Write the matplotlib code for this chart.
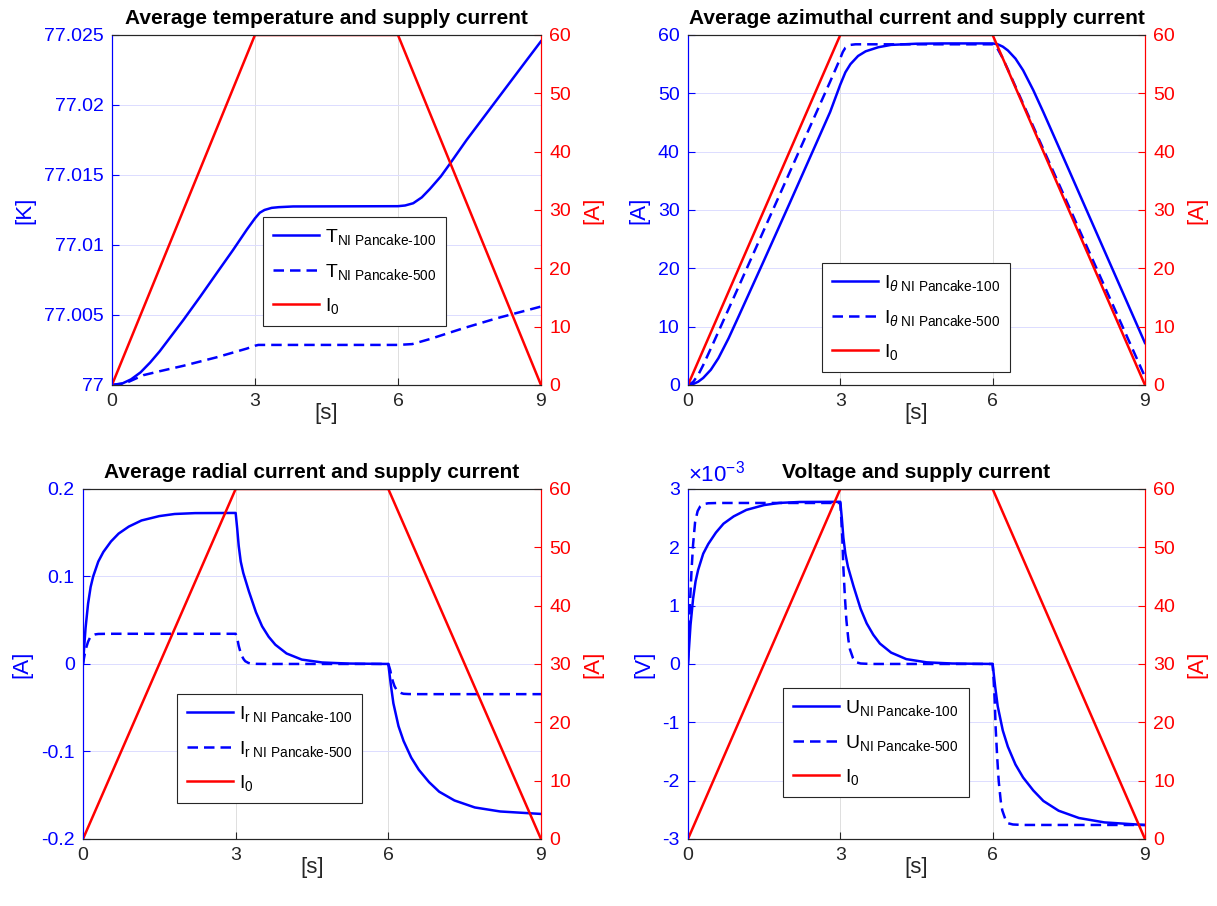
import matplotlib
matplotlib.use('Agg')
import matplotlib.pyplot as plt
from matplotlib.ticker import FuncFormatter

plt.rcParams['font.family'] = ['Liberation Sans', 'DejaVu Sans']
plt.rcParams['mathtext.fontset'] = 'custom'
plt.rcParams['mathtext.rm'] = 'Liberation Sans'
plt.rcParams['mathtext.it'] = 'Liberation Sans:italic'
plt.rcParams['mathtext.bf'] = 'Liberation Sans:bold'
plt.rcParams['axes.unicode_minus'] = False

# supply current I0 (same in every panel)
t_sup = [0, 3, 6, 9]
I_sup = [0, 60, 60, 0]

# average temperature [K]
t_T100 = [0, 0.2, 0.4, 0.6, 0.8, 1.0, 1.2, 1.5, 1.85, 2.2, 2.54, 2.83, 3.0, 3.1, 3.2, 3.35, 3.5, 3.8,
          6.0, 6.15, 6.32, 6.5, 6.67, 6.9, 7.09, 7.44, 7.86, 8.28, 8.7, 9.0]
T100 = [77.0, 77.00008, 77.0004, 77.0009, 77.0016, 77.0024, 77.0033, 77.00465, 77.0063, 77.008,
        77.00964, 77.0111, 77.0119, 77.0123, 77.0125, 77.01265, 77.0127, 77.01275,
        77.01277, 77.01282, 77.01298, 77.0134, 77.014, 77.0149, 77.0158, 77.0175, 77.0194,
        77.0213, 77.0232, 77.02455]
t_T500 = [0, 0.3, 0.66, 1.0, 1.5, 2.2, 2.83, 3.0, 3.07, 6.0, 6.3, 6.67, 7.37, 8.07, 9.0]
T500 = [77.0, 77.00015, 77.0007, 77.00098, 77.00137, 77.00198, 77.0026, 77.0028, 77.00286,
        77.00286, 77.00292, 77.00328, 77.00405, 77.00476, 77.0056]

# average azimuthal current [A]
t_Ith100 = [0, 0.1, 0.2, 0.3, 0.45, 0.6, 0.8, 1.0, 1.5, 2.0, 2.5, 2.8, 3.0, 3.1, 3.2, 3.35, 3.5,
            3.75, 4.0, 4.5, 5.0, 6.0, 6.1, 6.2, 6.3, 6.45, 6.6, 6.8, 7.0, 7.5, 8.0, 8.5, 9.0]
Ith100 = [0, 0.15, 0.55, 1.2, 2.6, 4.6, 8.0, 11.8, 21.4, 31.1, 40.9, 46.8, 51.5, 53.6, 55.0, 56.4,
          57.2, 57.9, 58.3, 58.5, 58.55, 58.55, 58.4, 58.0, 57.35, 55.95, 53.95, 50.55, 46.75,
          36.9, 27.0, 17.1, 7.2]
t_Ith500 = [0, 0.1, 0.2, 0.3, 0.5, 1.0, 2.0, 2.8, 2.95, 3.0, 3.05, 3.1, 3.2, 3.3, 6.0, 6.05,
            6.1, 6.2, 6.3, 7.0, 8.0, 9.0]
Ith500 = [0, 0.5, 1.7, 3.4, 7.2, 16.9, 36.4, 52.0, 55.0, 56.0, 57.1, 57.8, 58.3, 58.4, 58.4, 58.2,
          57.6, 56.0, 54.1, 40.4, 20.9, 1.4]

# average radial current [A]
t_Ir100 = [0, 0.05, 0.1, 0.15, 0.2, 0.3, 0.4, 0.55, 0.7, 0.9, 1.15, 1.5, 1.8, 2.2, 3.0,
           3.03, 3.06, 3.1, 3.15, 3.26, 3.4, 3.52, 3.65, 3.78, 4.0, 4.3, 4.7, 5.2, 6.0,
           6.05, 6.1, 6.2, 6.3, 6.45, 6.6, 6.8, 7.0, 7.3, 7.7, 8.2, 9.0]
Ir100 = [0, 0.041, 0.069, 0.088, 0.100, 0.117, 0.128, 0.140, 0.149, 0.157, 0.164, 0.169, 0.1714,
         0.1724, 0.1726,
         0.155, 0.135, 0.117, 0.104, 0.083, 0.059, 0.043, 0.031, 0.022, 0.012, 0.005, 0.0017,
         0.0005, 0.0,
         -0.024, -0.045, -0.071, -0.088, -0.107, -0.121, -0.135, -0.146, -0.156, -0.164,
         -0.1686, -0.1714]
t_Ir500 = [0, 0.02, 0.04, 0.07, 0.1, 0.14, 0.19, 0.24, 0.3, 0.4, 0.6, 3.0,
           3.02, 3.04, 3.06, 3.09, 3.12, 3.16, 3.19, 3.25, 3.3, 3.4, 3.6, 6.0,
           6.02, 6.04, 6.06, 6.09, 6.12, 6.16, 6.19, 6.25, 6.3, 6.4, 6.6, 9.0]
Ir500 = [0, 0.0069, 0.0131, 0.020, 0.0255, 0.0304, 0.0328, 0.0338, 0.0343, 0.0344, 0.0345, 0.0345,
         0.031, 0.0269, 0.0207, 0.0145, 0.0093, 0.0052, 0.0031, 0.0012, 0.0004, 0.0001, 0.0, 0.0,
         -0.0035, -0.0076, -0.0138, -0.020, -0.0251, -0.0294, -0.0314, -0.0332, -0.0341, -0.0344,
         -0.0345, -0.0345]

# voltage [V]
t_U100 = t_Ir100
U100 = [0, 0.000667, 0.001112, 0.001418, 0.001612, 0.00189, 0.002057, 0.002252, 0.002405,
        0.00253, 0.002641, 0.002724, 0.002761, 0.002777, 0.00278,
        0.002502, 0.002168, 0.00189, 0.001668, 0.001334, 0.000945, 0.000695, 0.0005, 0.00035,
        0.000195, 0.000083, 0.000028, 0.000008, 0.0,
        -0.000389, -0.000723, -0.00114, -0.001418, -0.001724, -0.001946, -0.002168, -0.002349,
        -0.002516, -0.002641, -0.002716, -0.002761]
t_U500 = t_Ir500
U500 = [0, 0.00055, 0.00105, 0.0016, 0.00204, 0.00243, 0.00262, 0.0027, 0.00274, 0.002755,
        0.00276, 0.00276,
        0.00248, 0.00215, 0.00166, 0.00116, 0.00075, 0.00041, 0.00025, 0.0001, 0.000033,
        0.000008, 0.0, 0.0,
        -0.00028, -0.00061, -0.0011, -0.0016, -0.00201, -0.00235, -0.00251, -0.00266, -0.00273,
        -0.002752, -0.00276, -0.00276]

fig = plt.figure(figsize=(12.17, 9.06), dpi=100)

LW = 1.8
DASH = (4.2, 2.4)


def panel(rect, title, ylab, t1, y1, t2, y2, lab1, lab2, ylim, yticks, leg_pos, scale=1.0):
    ax = fig.add_axes(rect)
    ax.plot(t1, [v * scale for v in y1], color='blue', lw=LW, label=lab1)
    ax.plot(t2, [v * scale for v in y2], color='blue', lw=LW, ls='--', dashes=DASH, label=lab2)
    ax.set_xlim(0, 9)
    ax.set_ylim(ylim[0] * scale, ylim[1] * scale)
    ax.set_xticks([0, 3, 6, 9])
    ax.set_yticks([v * scale for v in yticks])
    ax.yaxis.set_major_formatter(FuncFormatter(lambda v, p: '%g' % round(v, 6)))
    ax.xaxis.grid(True, color='#dedede', lw=0.7)
    ax.yaxis.grid(True, color='#dcdcff', lw=0.7)
    ax.set_axisbelow(True)
    ax.tick_params(axis='y', direction='in', colors='blue', labelsize=14, length=5, pad=6)
    ax.tick_params(axis='x', direction='in', color='#262626', labelcolor='#262626',
                   labelsize=14, length=5, pad=6)
    ax.set_xlabel('[s]', fontsize=16, color='#262626', labelpad=-5)
    ax.set_ylabel(ylab, fontsize=16, color='blue', labelpad=6)
    ax.set_title(title, fontsize=15, fontweight='bold', pad=8)

    ax2 = ax.twinx()
    ax2.plot(t_sup, I_sup, color='red', lw=LW, label='I$_0$')
    ax2.set_ylim(0, 60)
    ax2.set_yticks([0, 10, 20, 30, 40, 50, 60])
    ax2.tick_params(axis='y', direction='in', colors='red', labelsize=14, length=5, pad=6)
    ax2.set_ylabel('[A]', fontsize=16, color='red', labelpad=8)
    for a in (ax, ax2):
        a.spines['left'].set_color('blue')
        a.spines['right'].set_color('red')
        a.spines['top'].set_color('#262626')
        a.spines['bottom'].set_color('#262626')
        for s in a.spines.values():
            s.set_linewidth(0.8)

    h1, l1 = ax.get_legend_handles_labels()
    h2, l2 = ax2.get_legend_handles_labels()
    leg = ax2.legend(h1 + h2, l1 + l2, loc='lower left', bbox_to_anchor=leg_pos,
                     fontsize=14, frameon=True, fancybox=False, edgecolor='#262626',
                     framealpha=1, borderaxespad=0, handlelength=2.4, handletextpad=0.3,
                     labelspacing=0.75, borderpad=0.5)
    leg.get_frame().set_linewidth(0.8)
    return ax, ax2


panel([0.0920, 0.5751, 0.3525, 0.3863], 'Average temperature and supply current', '[K]',
      t_T100, T100, t_T500, T500,
      r'T$_{\text{NI Pancake-100}}$', r'T$_{\text{NI Pancake-500}}$',
      (77.0, 77.025), [77.0, 77.005, 77.01, 77.015, 77.02, 77.025], (0.352, 0.169))

panel([0.5653, 0.5751, 0.3755, 0.3863], 'Average azimuthal current and supply current', '[A]',
      t_Ith100, Ith100, t_Ith500, Ith500,
      r'I$_{\theta\ \text{NI Pancake-100}}$', r'I$_{\theta\ \text{NI Pancake-500}}$',
      (0, 60), [0, 10, 20, 30, 40, 50, 60], (0.293, 0.037))

panel([0.0682, 0.0740, 0.3763, 0.3863], 'Average radial current and supply current', '[A]',
      t_Ir100, Ir100, t_Ir500, Ir500,
      r'I$_{\text{r NI Pancake-100}}$', r'I$_{\text{r NI Pancake-500}}$',
      (-0.2, 0.2), [-0.2, -0.1, 0, 0.1, 0.2], (0.205, 0.103))

axU, _ = panel([0.5653, 0.0740, 0.3755, 0.3863], 'Voltage and supply current', '[V]',
               t_U100, U100, t_U500, U500,
               r'U$_{\text{NI Pancake-100}}$', r'U$_{\text{NI Pancake-500}}$',
               (-0.003, 0.003), [-0.003, -0.002, -0.001, 0, 0.001, 0.002, 0.003],
               (0.208, 0.12), scale=1000)
axU.text(0.0, 1.008, r'$\times10^{-3}$', transform=axU.transAxes, color='blue',
         fontsize=16, ha='left', va='bottom')

fig.savefig('out.png', dpi=100)
